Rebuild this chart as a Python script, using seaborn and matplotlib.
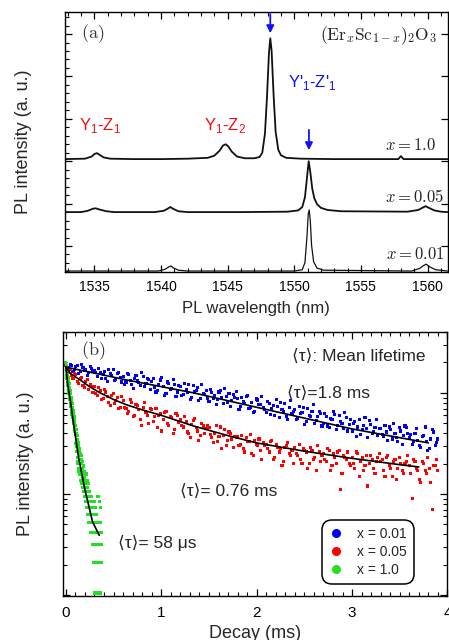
import matplotlib
matplotlib.use("Agg")
import matplotlib.pyplot as plt
from matplotlib.lines import Line2D
from matplotlib.ticker import MultipleLocator, AutoMinorLocator, LogLocator, NullFormatter
import numpy as np
import pandas as pd
import seaborn as sns

sns.set_theme(style="ticks")
plt.rcParams.update({
    "font.family": ["Liberation Sans", "DejaVu Sans"],
    "axes.linewidth": 1.0, "axes.edgecolor": "black",
    "xtick.color": "black", "ytick.color": "black",
    "xtick.direction": "in", "ytick.direction": "in",
    "xtick.major.size": 5, "ytick.major.size": 5,
    "xtick.minor.size": 3, "ytick.minor.size": 3,
    "xtick.major.width": 0.9, "ytick.major.width": 0.9,
    "xtick.minor.width": 0.8, "ytick.minor.width": 0.8,
    "xtick.labelsize": 10, "ytick.labelsize": 10,
})

# ---- (a) PL spectra: wavelength (nm) / height above own baseline (a.u.)
wl_10 = [1532.8, 1534.3, 1534.8, 1535.0, 1535.2, 1535.4, 1535.7, 1536.2, 1538.0, 1540.0,
         1542.0, 1543.5, 1544.0, 1544.4, 1544.65, 1544.85, 1545.05, 1545.3, 1545.7, 1546.3,
         1547.0, 1547.4, 1547.6, 1547.8, 1547.95, 1548.1, 1548.2, 1548.3, 1548.45, 1548.6,
         1548.8, 1549.0, 1549.4, 1550.5, 1553.0, 1557.8, 1558.0, 1558.2, 1561.5]
pl_10 = [0.0, 0.01, 0.06, 0.12, 0.14, 0.10, 0.04, 0.01, 0.0, 0.0,
         0.01, 0.03, 0.08, 0.2, 0.32, 0.35, 0.3, 0.18, 0.06, 0.02,
         0.02, 0.05, 0.15, 0.6, 1.45, 2.5, 2.85, 2.55, 1.5, 0.65,
         0.22, 0.09, 0.03, 0.01, 0.0, 0.0, 0.07, 0.0, 0.0]

wl_005 = [1532.8, 1534.0, 1534.5, 1534.9, 1535.1, 1535.4, 1535.9, 1536.5, 1539.5, 1540.2,
          1540.5, 1540.7, 1540.9, 1541.3, 1542.0, 1546.0, 1549.5, 1550.3, 1550.6, 1550.8,
          1550.95, 1551.08, 1551.2, 1551.35, 1551.5, 1551.7, 1552.0, 1552.5, 1553.5, 1558.5,
          1559.3, 1559.6, 1559.85, 1560.1, 1560.5, 1561.0, 1561.5]
pl_005 = [0.0, 0.0, 0.03, 0.08, 0.09, 0.06, 0.02, 0.0, 0.0, 0.03,
          0.08, 0.12, 0.08, 0.02, 0.0, 0.0, 0.01, 0.04, 0.12, 0.35,
          0.8, 1.2, 0.95, 0.55, 0.33, 0.19, 0.1, 0.05, 0.02, 0.01,
          0.05, 0.1, 0.14, 0.1, 0.04, 0.01, 0.0]

wl_001 = [1532.8, 1539.8, 1540.3, 1540.6, 1540.75, 1540.9, 1541.3, 1542.0, 1550.0, 1550.6,
          1550.8, 1550.95, 1551.05, 1551.12, 1551.2, 1551.3, 1551.45, 1551.7, 1552.2, 1558.8,
          1559.4, 1559.7, 1559.9, 1560.15, 1560.6, 1561.5]
pl_001 = [0.0, 0.0, 0.04, 0.1, 0.12, 0.08, 0.02, 0.0, 0.0, 0.03,
          0.2, 0.8, 1.35, 1.44, 1.2, 0.6, 0.22, 0.07, 0.02, 0.0,
          0.06, 0.13, 0.16, 0.1, 0.03, 0.0]

offsets = {"x = 1.0": 2.05, "x = 0.05": 0.80, "x = 0.01": -0.59}

# ---- (b) PL decay, intensity (a.u.); two interleaved reads, every 0.03 ms
blue_I = [1.95, 1.78, 1.85, 1.70, 1.88, 1.62, 1.80, 1.72, 1.58, 1.76,
          1.66, 1.45, 1.60, 1.52, 1.38, 1.70, 1.48, 1.33, 1.55, 1.42,
          1.45, 1.28, 1.52, 1.20, 1.40, 1.31, 1.18, 1.46, 1.25, 1.35,
          1.30, 1.12, 1.05, 1.34, 1.16, 0.98, 1.25, 1.10, 1.22, 1.02,
          1.15, 0.96, 1.08, 1.20, 0.90, 1.02, 1.12, 0.88, 0.99, 1.06,
          0.82, 1.00, 0.95, 0.86, 1.05, 0.78, 0.92, 0.99, 0.84, 0.90,
          0.88, 0.74, 0.83, 0.92, 0.70, 0.80, 0.66, 0.85, 0.77, 0.72,
          0.64, 0.78, 0.70, 0.60, 0.74, 0.81, 0.66, 0.58, 0.72, 0.63,
          0.68, 0.56, 0.62, 0.71, 0.52, 0.60, 0.65, 0.50, 0.58, 0.62,
          0.50, 0.58, 0.45, 0.55, 0.61, 0.48, 0.52, 0.44, 0.57, 0.49,
          0.42, 0.52, 0.46, 0.39, 0.48, 0.44, 0.53, 0.40, 0.45, 0.38,
          0.44, 0.37, 0.41, 0.46, 0.35, 0.40, 0.33, 0.42, 0.38, 0.45,
          0.36, 0.31, 0.40, 0.34, 0.29, 0.38, 0.33, 0.28, 0.43, 0.30,
          0.35]
blue_I_mid = [1.70, 1.92, 1.64, 1.83, 1.55, 1.90, 1.68, 1.50, 1.82, 1.62,
              1.58, 1.75, 1.40, 1.63, 1.30, 1.55, 1.72, 1.36, 1.60, 1.28,
              1.22, 1.55, 1.33, 1.10, 1.48, 1.26, 1.58, 1.15, 1.40, 1.08,
              1.38, 1.02, 1.20, 1.42, 0.95, 1.28, 1.08, 1.35, 0.92, 1.18,
              0.94, 1.25, 1.00, 0.86, 1.18, 1.05, 0.84, 1.22, 0.97, 0.89,
              1.08, 0.88, 0.76, 1.02, 0.90, 1.10, 0.80, 0.74, 0.96, 1.04,
              0.68, 0.90, 0.78, 0.95, 0.72, 0.64, 0.87, 0.76, 0.93, 0.69,
              0.82, 0.61, 0.75, 0.86, 0.57, 0.68, 0.79, 0.55, 0.84, 0.66,
              0.55, 0.74, 0.64, 0.49, 0.70, 0.58, 0.76, 0.53, 0.66, 0.47,
              0.63, 0.47, 0.56, 0.66, 0.43, 0.60, 0.50, 0.64, 0.42, 0.54,
              0.50, 0.37, 0.55, 0.43, 0.57, 0.36, 0.49, 0.41, 0.54, 0.44,
              0.39, 0.48, 0.34, 0.43, 0.50, 0.36, 0.45, 0.31, 0.47, 0.40,
              0.39, 0.33, 0.44, 0.30, 0.37, 0.46, 0.27, 0.35, 0.41, 0.32]
red_I = [1.85, 1.60, 1.48, 1.55, 1.30, 1.38, 1.18, 1.30, 1.08, 1.16,
         1.15, 0.95, 1.06, 0.88, 1.02, 0.80, 0.95, 0.78, 0.90, 0.72,
         0.84, 0.70, 0.66, 0.80, 0.60, 0.75, 0.55, 0.72, 0.64, 0.50,
         0.68, 0.58, 0.45, 0.62, 0.55, 0.66, 0.48, 0.57, 0.43, 0.60,
         0.55, 0.46, 0.52, 0.40, 0.49, 0.56, 0.42, 0.38, 0.47, 0.44,
         0.45, 0.36, 0.40, 0.33, 0.46, 0.38, 0.30, 0.41, 0.35, 0.37,
         0.37, 0.31, 0.28, 0.36, 0.33, 0.25, 0.34, 0.30, 0.27, 0.32,
         0.31, 0.26, 0.34, 0.23, 0.29, 0.28, 0.21, 0.30, 0.25, 0.27,
         0.29, 0.24, 0.22, 0.28, 0.26, 0.20, 0.27, 0.23, 0.30, 0.21,
         0.25, 0.21, 0.27, 0.19, 0.23, 0.26, 0.11, 0.24, 0.22, 0.20,
         0.23, 0.18, 0.25, 0.21, 0.17, 0.24, 0.20, 0.22, 0.16, 0.23,
         0.21, 0.17, 0.23, 0.19, 0.15, 0.22, 0.18, 0.20, 0.16, 0.21,
         0.19, 0.09, 0.21, 0.17, 0.13, 0.20, 0.16, 0.18, 0.07, 0.19,
         0.17]
red_I_mid = [1.62, 1.70, 1.38, 1.52, 1.25, 1.42, 1.12, 1.35, 1.20, 1.00,
             0.98, 1.12, 0.86, 1.08, 0.92, 0.75, 0.98, 0.84, 0.70, 0.92,
             0.72, 0.62, 0.86, 0.58, 0.76, 0.68, 0.48, 0.80, 0.60, 0.70,
             0.52, 0.70, 0.60, 0.42, 0.64, 0.50, 0.58, 0.40, 0.62, 0.51,
             0.48, 0.58, 0.41, 0.36, 0.53, 0.45, 0.34, 0.50, 0.40, 0.47,
             0.39, 0.32, 0.48, 0.37, 0.28, 0.43, 0.34, 0.40, 0.29, 0.36,
             0.30, 0.38, 0.26, 0.33, 0.39, 0.24, 0.31, 0.35, 0.22, 0.30,
             0.28, 0.33, 0.22, 0.31, 0.26, 0.19, 0.29, 0.32, 0.24, 0.20,
             0.25, 0.31, 0.20, 0.27, 0.18, 0.29, 0.22, 0.17, 0.26, 0.24,
             0.22, 0.28, 0.17, 0.25, 0.20, 0.27, 0.16, 0.23, 0.26, 0.19,
             0.20, 0.26, 0.15, 0.23, 0.19, 0.12, 0.24, 0.18, 0.21, 0.25,
             0.22, 0.15, 0.24, 0.18, 0.21, 0.14, 0.23, 0.17, 0.20, 0.24,
             0.16, 0.22, 0.18, 0.14, 0.21, 0.17, 0.23, 0.13, 0.19, 0.22]
# x = 1.0 decay: photon counts every 0.0025 ms, one count = 0.0105 a.u.
green_counts = [190, 160, 178, 140, 165, 132, 158, 120, 145, 112, 136, 102, 125, 95, 118,
                88, 108, 82, 100, 74, 94, 70, 86, 63, 80, 58, 75, 54, 68,
                54, 63, 50, 58, 47, 55, 43, 51, 40, 48, 37, 45,
                30, 45, 28, 41, 25, 38, 22, 36, 20, 33, 19, 31, 17, 29, 16, 27, 15, 25, 16, 23,
                13, 24, 16, 21, 12, 19, 23, 13, 17, 11, 20, 14, 10, 16, 18, 11, 15, 9, 14, 16,
                10, 13, 8, 12, 15, 9, 11, 7, 13, 10, 6, 11, 9, 12, 7, 10, 5, 9, 8, 6,
                10, 7, 4, 8, 6, 9, 5, 7, 4, 8, 6, 3,
                7, 5, 2, 6, 4, 8, 3, 5, 1, 6, 4, 2, 7, 3, 5, 4, 1, 6, 9, 5,
                2, 4, 9, 3, 1, 5, 4, 2, 8, 3, 4, 1, 5, 2, 7, 4, 2, 3]
count_unit = 0.0105

# fitted curves
blue_fit_t = [0, 0.64, 1.34, 2.0, 3.0, 3.8]
blue_fit_I = [1.8, 1.34, 1.0, 0.72, 0.44, 0.32]
red_fit_t = [0, 0.05, 0.15, 0.25, 0.36, 0.5, 0.64, 0.8, 1.0, 1.34, 1.69, 2.0, 2.5, 3.0, 3.5, 3.7]
red_fit_I = [1.8, 1.55, 1.34, 1.15, 1.0, 0.86, 0.76, 0.68, 0.6, 0.47, 0.38, 0.32, 0.265, 0.225, 0.195, 0.185]
green_fit_t = [0, 0.02, 0.05, 0.08, 0.13, 0.2, 0.28, 0.35]
green_fit_I = [1.8, 1.2, 0.8, 0.5, 0.24, 0.11, 0.053, 0.039]

colors = {"x = 0.01": "#0000ff", "x = 0.05": "#ff0000", "x = 1.0": "#22e022"}

fig = plt.figure(figsize=(4.49, 6.4), dpi=100)
ax1 = fig.add_axes([0.1448, 0.575, 0.852, 0.40625])
ax2 = fig.add_axes([0.1403, 0.06875, 0.8563, 0.4125])

# ---------------- panel (a)
spectra = [("x = 1.0", wl_10, pl_10, 1.3), ("x = 0.05", wl_005, pl_005, 1.3),
           ("x = 0.01", wl_001, pl_001, 0.9)]
for name, wl, pl, lw in spectra:
    d = pd.DataFrame({"wl": wl, "I": np.array(pl) + offsets[name]})
    sns.lineplot(data=d, x="wl", y="I", color="#111111", lw=lw, sort=False,
                 estimator=None, ax=ax1)

ax1.set_xlim(1532.8, 1561.5)
ax1.set_ylim(-0.613, 5.52)
ax1.xaxis.set_major_locator(MultipleLocator(5))
ax1.xaxis.set_minor_locator(AutoMinorLocator(5))
ax1.yaxis.set_major_locator(MultipleLocator(1))
ax1.yaxis.set_minor_locator(AutoMinorLocator(5))
ax1.tick_params(which="both", top=True, right=True)
ax1.tick_params(which="minor", right=False)
ax1.tick_params(axis="x", pad=6)
ax1.set_yticklabels([])
ax1.set_xlabel("PL wavelength (nm)", fontsize=12)
ax1.set_ylabel("PL intensity (a. u.)", fontsize=13)
ax1.xaxis.set_label_coords(0.5, -0.11)
ax1.yaxis.set_label_coords(-0.085, 0.5)

ax1.text(0.073, 0.915, r"$\mathrm{(a)}$", transform=ax1.transAxes, ha="center",
         va="center", fontsize=13, math_fontfamily="cm", color="#333333")
ax1.text(0.9725, 0.908, r"$(\mathrm{Er}_x\mathrm{Sc}_{1-x})_2\mathrm{O}_3$",
         transform=ax1.transAxes, ha="right", va="center", fontsize=12.5,
         math_fontfamily="cm", color="#222222")
ax1.text(0.0915, 0.565, r"Y$_{\mathregular{1}}$-Z$_{\mathregular{1}}$", transform=ax1.transAxes,
         ha="center", va="center", fontsize=12, color="#ee1111")
ax1.text(0.418, 0.565, r"Y$_{\mathregular{1}}$-Z$_{\mathregular{2}}$", transform=ax1.transAxes,
         ha="center", va="center", fontsize=12, color="#ee1111")
ax1.text(0.646, 0.727, r"Y'$_{\mathregular{1}}$-Z'$_{\mathregular{1}}$", transform=ax1.transAxes,
         ha="center", va="center", fontsize=12, color="#1111ff")
for lab, xf, yf in [("x = 1.0", 0.97, 0.488), ("x = 0.05", 0.991, 0.292), ("x = 0.01", 0.991, 0.069)]:
    ax1.text(xf, yf, "$" + lab + "$", transform=ax1.transAxes, ha="right", va="center",
             fontsize=12, math_fontfamily="cm", color="#222222")

for wl_arrow, y_tail, y_tip in [(1548.2, 5.47, 5.02), (1551.1, 2.74, 2.26)]:
    ax1.annotate("", xy=(wl_arrow, y_tip), xytext=(wl_arrow, y_tail),
                 arrowprops=dict(arrowstyle="-|>", color="#1111ff", lw=1.3,
                                 mutation_scale=11, shrinkA=0, shrinkB=0))

# ---------------- panel (b)
dt = 0.03
dt_green = 0.0025
decay = pd.concat([
    pd.DataFrame({"t": np.arange(len(blue_I)) * dt, "I": blue_I, "sample": "x = 0.01"}),
    pd.DataFrame({"t": np.arange(len(blue_I_mid)) * dt + dt / 2, "I": blue_I_mid, "sample": "x = 0.01"}),
    pd.DataFrame({"t": np.arange(len(red_I)) * dt, "I": red_I, "sample": "x = 0.05"}),
    pd.DataFrame({"t": np.arange(len(red_I_mid)) * dt + dt / 2, "I": red_I_mid, "sample": "x = 0.05"}),
    pd.DataFrame({"t": np.arange(len(green_counts)) * dt_green,
                  "I": np.array(green_counts) * count_unit, "sample": "x = 1.0"}),
], ignore_index=True)

sns.scatterplot(data=decay, x="t", y="I", hue="sample", palette=colors, marker="s",
                s=5, linewidth=0, legend=False, ax=ax2)
for ft, fI in [(blue_fit_t, blue_fit_I), (red_fit_t, red_fit_I), (green_fit_t, green_fit_I)]:
    sns.lineplot(x=ft, y=fI, color="black", lw=1.2, sort=False, estimator=None, ax=ax2)

ax2.set_yscale("log")
ax2.set_xlim(-0.03, 4.0)
ax2.set_ylim(0.0098, 4.0)
ax2.xaxis.set_major_locator(MultipleLocator(1))
ax2.xaxis.set_minor_locator(AutoMinorLocator(10))
ax2.yaxis.set_major_locator(LogLocator(base=10))
ax2.yaxis.set_minor_locator(LogLocator(base=10, subs=np.arange(2, 10)))
ax2.yaxis.set_major_formatter(NullFormatter())
ax2.yaxis.set_minor_formatter(NullFormatter())
ax2.tick_params(which="both", top=True, right=True)
ax2.tick_params(axis="x", pad=7, labelsize=11)
ax2.set_xlabel("Decay (ms)", fontsize=13)
ax2.set_ylabel("PL intensity (a. u.)", fontsize=13)
ax2.xaxis.set_label_coords(0.5, -0.11)
ax2.yaxis.set_label_coords(-0.075, 0.5)

ax2.text(0.078, 0.928, r"$\mathrm{(b)}$", transform=ax2.transAxes, ha="center",
         va="center", fontsize=13, math_fontfamily="cm", color="#333333")
ax2.text(0.944, 0.909, "⟨τ⟩: Mean lifetime", transform=ax2.transAxes, ha="right",
         va="center", fontsize=12.5)
ax2.text(0.5826, 0.769, "⟨τ⟩=1.8 ms", transform=ax2.transAxes, ha="left",
         va="center", fontsize=12.5)
ax2.text(0.304, 0.398, "⟨τ⟩= 0.76 ms", transform=ax2.transAxes, ha="left",
         va="center", fontsize=12.5)
ax2.text(0.143, 0.201, "⟨τ⟩= 58 μs", transform=ax2.transAxes, ha="left",
         va="center", fontsize=12.5)

handles = [Line2D([], [], ls="", marker="o", markersize=5.5, color=colors[k])
           for k in ["x = 0.01", "x = 0.05", "x = 1.0"]]
leg = ax2.legend(handles, ["x = 0.01", "x = 0.05", "x = 1.0"], loc="upper left",
                 bbox_to_anchor=(0.674, 0.288), borderaxespad=0, fontsize=10,
                 frameon=True, fancybox=True, handlelength=1.0, handletextpad=1.0,
                 labelspacing=0.3, borderpad=0.5)
frame = leg.get_frame()
frame.set_edgecolor("black")
frame.set_linewidth(1.1)
frame.set_alpha(1)
frame.set_boxstyle("round,pad=0,rounding_size=0.7")

fig.savefig("out.png", dpi=100)
